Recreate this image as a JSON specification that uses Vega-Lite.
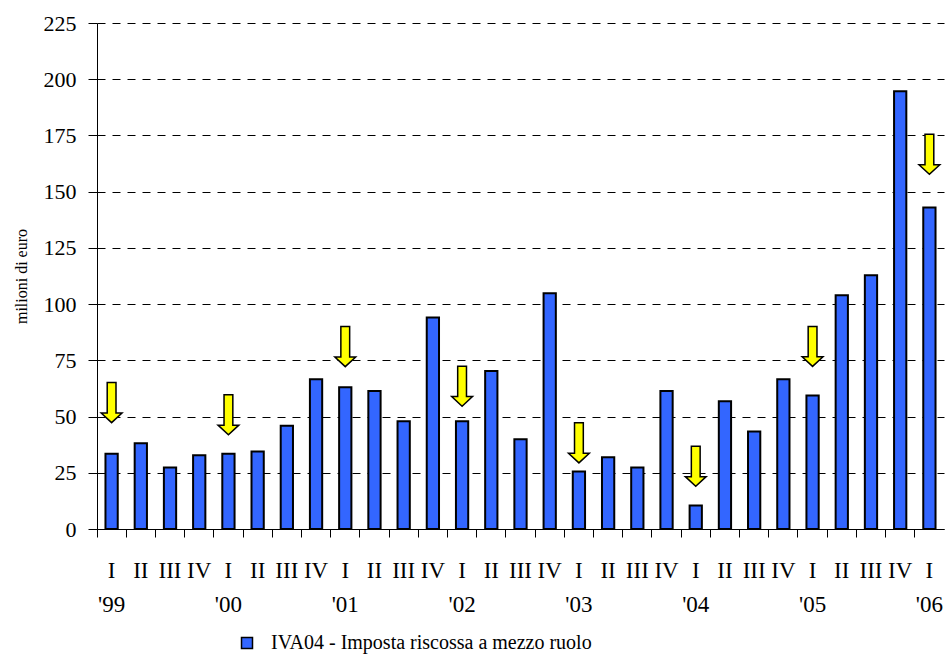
{
  "$schema": "https://vega.github.io/schema/vega-lite/v6.json",
  "autosize": "none",
  "width": 847,
  "height": 506,
  "padding": {"left": 97, "top": 23, "right": 6, "bottom": 128},
  "background": "white",
  "config": {
    "view": {"stroke": null},
    "font": "Liberation Serif",
    "axis": {"domainColor": "black", "tickColor": "black", "labelColor": "black", "titleColor": "black", "labelFont": "Liberation Serif", "titleFont": "Liberation Serif", "titleFontWeight": "normal"},
    "axisY": {"labelFont": "Liberation Serif", "labelFontSize": 22, "tickSize": 9, "labelPadding": 12, "titleFont": "Liberation Serif", "titleFontSize": 16, "titleFontWeight": "normal", "gridColor": "black", "gridDash": [8, 7], "gridWidth": 1},
    "axisX": {"labelFont": "Liberation Serif", "labelFontSize": 23, "tickSize": 8, "labelPadding": 22, "labelLineHeight": 34, "labelAngle": 0, "labelBaseline": "top", "labelAlign": "center"}
  },
  "data": {"values": [
    {"periodo": "I '99", "valore": 33.5, "freccia": 56.2},
    {"periodo": "II '99", "valore": 38.1, "freccia": null},
    {"periodo": "III '99", "valore": 27.4, "freccia": null},
    {"periodo": "IV '99", "valore": 32.8, "freccia": null},
    {"periodo": "I '00", "valore": 33.5, "freccia": 50.8},
    {"periodo": "II '00", "valore": 34.5, "freccia": null},
    {"periodo": "III '00", "valore": 45.9, "freccia": null},
    {"periodo": "IV '00", "valore": 66.6, "freccia": null},
    {"periodo": "I '01", "valore": 63.0, "freccia": 81.1},
    {"periodo": "II '01", "valore": 61.4, "freccia": null},
    {"periodo": "III '01", "valore": 47.9, "freccia": null},
    {"periodo": "IV '01", "valore": 94.1, "freccia": null},
    {"periodo": "I '02", "valore": 47.9, "freccia": 63.5},
    {"periodo": "II '02", "valore": 70.3, "freccia": null},
    {"periodo": "III '02", "valore": 39.9, "freccia": null},
    {"periodo": "IV '02", "valore": 104.8, "freccia": null},
    {"periodo": "I '03", "valore": 25.6, "freccia": 38.3},
    {"periodo": "II '03", "valore": 31.9, "freccia": null},
    {"periodo": "III '03", "valore": 27.4, "freccia": null},
    {"periodo": "IV '03", "valore": 61.4, "freccia": null},
    {"periodo": "I '04", "valore": 10.4, "freccia": 27.9},
    {"periodo": "II '04", "valore": 56.8, "freccia": null},
    {"periodo": "III '04", "valore": 43.4, "freccia": null},
    {"periodo": "IV '04", "valore": 66.6, "freccia": null},
    {"periodo": "I '05", "valore": 59.4, "freccia": 81.2},
    {"periodo": "II '05", "valore": 103.9, "freccia": null},
    {"periodo": "III '05", "valore": 112.8, "freccia": null},
    {"periodo": "IV '05", "valore": 194.6, "freccia": null},
    {"periodo": "I '06", "valore": 143.0, "freccia": 166.6}
  ]},
  "layer": [
    {
      "mark": {"type": "bar", "width": {"band": 0.42}, "stroke": "black", "strokeWidth": 2},
      "encoding": {
        "x": {
          "field": "periodo", "type": "nominal", "sort": null,
          "scale": {"paddingInner": 0, "paddingOuter": 0},
          "axis": {
            "title": null, "bandPosition": 0,
            "labelExpr": "indexof(datum.value, 'I ') == 0 ? split(datum.value, ' ') : split(datum.value, ' ')[0]",
            "grid": false
          }
        },
        "y": {
          "field": "valore", "type": "quantitative",
          "scale": {"domain": [0, 225], "nice": false},
          "axis": {
            "title": "milioni di euro", "titleFontSize": 16,
            "titlePadding": 14,
            "values": [0, 25, 50, 75, 100, 125, 150, 175, 200, 225],
            "grid": true
          }
        },
        "color": {
          "datum": "IVA04 - Imposta riscossa a mezzo ruolo",
          "type": "nominal",
          "scale": {"range": ["#3366ff"]},
          "legend": {
            "title": null, "orient": "none", "legendX": 140, "legendY": 610,
            "symbolType": "square", "symbolSize": 121, "symbolStrokeColor": "black", "symbolStrokeWidth": 1.5,
            "labelFont": "Liberation Serif", "labelFontSize": 20, "labelColor": "black", "labelOffset": 14, "labelLimit": 600
          }
        }
      }
    },
    {
      "transform": [{"filter": "datum.freccia != null"}],
      "mark": {
        "type": "point", "filled": true, "fill": "#ffff00", "stroke": "black", "strokeWidth": 1.5, "opacity": 1,
        "shape": "M-0.22,-1 L0.22,-1 L0.22,0.52 L0.52,0.52 L0,1 L-0.52,0.52 L-0.22,0.52 Z",
        "size": 1600
      },
      "encoding": {
        "x": {"field": "periodo", "type": "nominal", "sort": null},
        "y": {"field": "freccia", "type": "quantitative"}
      }
    }
  ]
}
